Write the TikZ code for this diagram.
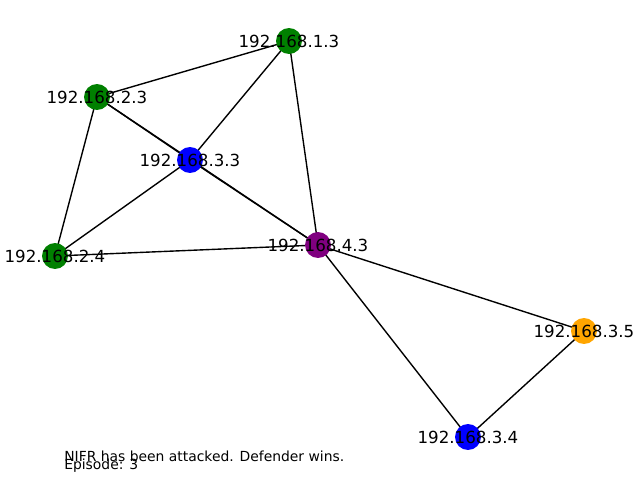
\documentclass[tikz,border=0pt]{standalone}
\usepackage{fontspec}
\setmainfont{DejaVu Sans}
\usetikzlibrary{backgrounds}
\definecolor{nxgreen}{HTML}{008000}
\definecolor{nxblue}{HTML}{0000FF}
\definecolor{nxpurple}{HTML}{800080}
\definecolor{nxorange}{HTML}{FFA500}
\tikzset{
  host/.style={circle, minimum size=18.7pt, inner sep=0pt, draw=none,
    label={[font=\fontsize{12}{14}\selectfont, inner sep=0pt]center:#1}},
  link/.style={draw=black, line width=1pt},
  footnote/.style={anchor=base west, inner sep=0pt, font=\fontsize{10}{12}\selectfont}
}
\begin{document}
\begin{tikzpicture}[x=0.72pt, y=-0.72pt]
\useasboundingbox (0,0) rectangle (640,480);
\node[host=192.168.1.3, fill=nxgreen] (h13) at (289,41) {};
\node[host=192.168.2.3, fill=nxgreen] (h23) at (97,97) {};
\node[host=192.168.3.3, fill=nxblue] (h33) at (190,160) {};
\node[host=192.168.2.4, fill=nxgreen] (h24) at (55,256) {};
\node[host=192.168.4.3, fill=nxpurple] (h43) at (318,245) {};
\node[host=192.168.3.5, fill=nxorange] (h35) at (584,331) {};
\node[host=192.168.3.4, fill=nxblue] (h34) at (468,437) {};
\begin{scope}[on background layer]
\draw[link] (h13.center) -- (h23.center);
\draw[link] (h13.center) -- (h33.center);
\draw[link] (h13.center) -- (h43.center);
\draw[link] (h23.center) -- (h33.center);
\draw[link] (h23.center) -- (h43.center);
\draw[link] (h33.center) -- (h43.center);
\draw[link] (h23.center) -- (h24.center);
\draw[link] (h33.center) -- (h24.center);
\draw[link] (h24.center) -- (h43.center);
\draw[link] (h43.center) -- (h35.center);
\draw[link] (h43.center) -- (h34.center);
\draw[link] (h35.center) -- (h34.center);
\end{scope}
\node[footnote] (status) at (64,461) {NIFR has been attacked. Defender wins.};
\node[footnote] (episode) at (64,469.5) {Episode: 3};
\end{tikzpicture}
\end{document}
